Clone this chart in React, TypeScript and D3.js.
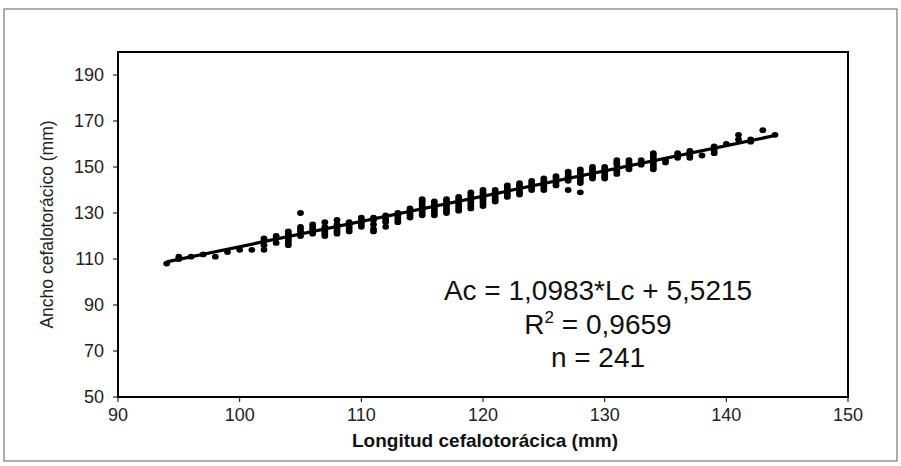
import * as d3 from "d3";

// Lc (mm) columns and the Ac (mm) values observed at each
const lcValues = [
  94, 95, 96, 97, 98, 99, 100, 101, 102, 103, 104, 105, 106, 107, 108, 109, 110,
  111, 112, 113, 114, 115, 116, 117, 118, 119, 120, 121, 122, 123, 124, 125, 126,
  127, 128, 129, 130, 131, 132, 133, 134, 135, 136, 137, 138, 139, 140, 141, 142,
  143, 144,
];
const acValues: number[][] = [
  [108], [110, 111], [111], [112], [111], [113], [114], [114],
  [114, 116, 118, 119], [117, 119, 120],
  [116, 117, 118, 119, 120, 121, 122],
  [120, 122, 123, 124, 130],
  [121, 122, 123, 124, 125],
  [120, 121, 122, 123, 124, 126],
  [121, 122, 123, 124, 125, 127],
  [122, 123, 124, 125, 126],
  [124, 125, 126, 127, 128],
  [122, 123, 125, 127, 128],
  [124, 126, 127, 128, 129],
  [126, 127, 128, 129, 130],
  [128, 129, 130, 131, 132],
  [129, 130, 131, 132, 133, 134, 135, 136],
  [129, 130, 131, 132, 133, 134, 135],
  [130, 131, 132, 133, 134, 135, 136],
  [131, 132, 133, 134, 135, 136, 137],
  [132, 133, 134, 135, 136, 137, 138, 139],
  [133, 134, 135, 136, 137, 138, 139, 140],
  [135, 136, 137, 138, 139, 140],
  [137, 138, 139, 140, 141, 142],
  [138, 139, 140, 141, 142, 143],
  [140, 141, 142, 143, 144],
  [140, 141, 142, 143, 144, 145],
  [142, 143, 144, 145, 146],
  [140, 144, 145, 146, 147, 148],
  [139, 143, 144, 145, 146, 147, 148, 149],
  [145, 146, 147, 148, 149, 150],
  [145, 146, 147, 148, 149, 150],
  [147, 148, 149, 151, 152, 153],
  [149, 150, 151, 152, 153],
  [151, 152, 153],
  [149, 150, 151, 152, 153, 154, 155, 156],
  [152, 153],
  [154, 155, 156],
  [154, 155, 156, 157],
  [155],
  [156, 157, 158, 159],
  [160],
  [162, 164],
  [161, 162],
  [166],
  [164],
];

const xTicks = [90, 100, 110, 120, 130, 140, 150];
const yTicks = [50, 70, 90, 110, 130, 150, 170, 190];
const slope = 1.0983;
const intercept = 5.5215;
const fitRange = [94, 144];

const font = "'Liberation Sans', Arial, sans-serif";

export default function App() {
  const W = 901,
    H = 466;
  const x = d3.scaleLinear().domain([90, 150]).range([118, 848]);
  const y = d3.scaleLinear().domain([50, 200]).range([397, 52]);

  const points = lcValues.flatMap((lc, i) => acValues[i].map((ac) => [lc, ac]));

  const line = d3
    .line<number>()
    .x((d) => x(d))
    .y((d) => y(slope * d + intercept));

  return (
    <svg
      width={W}
      height={H}
      style={{ position: "absolute", left: 0, top: 0, background: "#fff" }}
      fontFamily={font}
    >
      <rect x={4} y={9} width={893} height={452} fill="none" stroke="#777" strokeWidth={1.2} />

      {/* fit line */}
      <path d={line(fitRange) || ""} stroke="#000" strokeWidth={3.2} fill="none" />

      {points.map(([lc, ac], i) => (
        <ellipse key={i} cx={x(lc)} cy={y(ac)} rx={3.4} ry={2.9} fill="#000" />
      ))}

      <rect
        x={x(90)}
        y={y(200)}
        width={x(150) - x(90)}
        height={y(50) - y(200)}
        fill="none"
        stroke="#000"
        strokeWidth={2}
      />

      {yTicks.map((t) => (
        <g key={t}>
          <line x1={x(90) - 5} x2={x(90)} y1={y(t)} y2={y(t)} stroke="#000" strokeWidth={1} />
          <text x={x(90) - 14} y={y(t)} dy="0.35em" textAnchor="end" fontSize={18} fill="#222">
            {t}
          </text>
        </g>
      ))}

      {xTicks.map((t) => (
        <g key={t}>
          <line x1={x(t)} x2={x(t)} y1={y(50)} y2={y(50) + 5} stroke="#000" strokeWidth={1} />
          <text x={x(t)} y={y(50) + 24} textAnchor="middle" fontSize={18} fill="#222">
            {t}
          </text>
        </g>
      ))}

      <text
        transform={`translate(53,${(y(50) + y(200)) / 2}) rotate(-90)`}
        textAnchor="middle"
        fontSize={17.5}
        fill="#222"
      >
        Ancho cefalotorácico (mm)
      </text>
      <text x={485} y={447} textAnchor="middle" fontSize={19} fontWeight="bold" fill="#111">
        Longitud cefalotorácica (mm)
      </text>

      <g fontSize={28} fill="#111" textAnchor="middle">
        <text x={598} y={300}>Ac = 1,0983*Lc + 5,5215</text>
        <text x={598} y={334}>
          R<tspan fontSize={17} dy={-11}>2</tspan>
          <tspan dy={11}> = 0,9659</tspan>
        </text>
        <text x={598} y={367}>n = 241</text>
      </g>
    </svg>
  );
}
